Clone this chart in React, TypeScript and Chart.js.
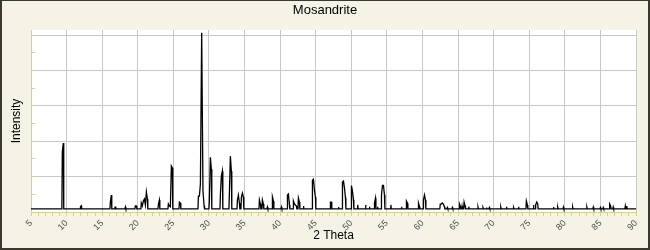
import React, { useEffect, useRef } from 'react';
import { Chart, registerables } from 'chart.js';

Chart.register(...registerables);

// ---- texts ----
const chartTitle = 'Mosandrite';
const xAxisTitle = '2 Theta';
const yAxisTitle = 'Intensity';

// ---- axis ranges / ticks ----
const xMin = 5;
const xMax = 90;
const yMin = 0;
const yMax = 103;
const xTickValues = Array.from({ length: xMax - xMin + 1 }, (_, i) => xMin + i);
const xLabelValues = [5, 10, 15, 20, 25, 30, 35, 40, 45, 50, 55, 60, 65, 70, 75, 80, 85, 90];
const yTickValues = [0, 10, 20, 30, 40, 50, 60, 70, 80, 90, 100];
const yGridValues = [20, 40, 60, 80, 100];

// ---- data: diffraction peaks ----
const baseline = 1.8;
const peakPositions = [
  9.40, 9.54, 11.95, 12.05, 16.15, 16.29, 16.80, 16.90, 18.26, 19.66, 19.80,
  20.50, 20.64, 20.79, 20.93, 21.07, 21.21, 21.35, 22.90, 23.04, 24.30, 24.44,
  24.58, 24.72, 24.86, 25.85, 25.99, 28.52, 28.66, 28.80, 28.98, 29.16,
  29.32, 30.06, 30.20, 30.34, 31.61, 31.75, 31.89, 32.87, 33.01, 33.15, 34.00,
  34.14, 34.28, 34.56, 34.70, 34.84, 37.09, 37.23, 37.51, 37.65, 38.21, 38.92,
  39.06, 40.18, 41.03, 41.17, 41.31, 41.87, 42.01, 42.15, 42.29, 42.57, 42.71,
  43.28, 44.54, 44.68, 44.82, 44.96, 47.07, 47.20, 48.20, 48.76, 48.90, 49.04,
  49.18, 50.02, 50.16, 50.30, 50.90, 52.00, 52.55, 53.26, 53.40, 53.68, 54.24,
  54.38, 54.52, 54.66, 55.56, 57.05, 57.75, 57.89, 59.44, 59.58, 60.14, 60.28,
  60.42, 62.50, 62.64, 62.80, 62.94, 63.08, 63.50, 64.20, 65.20, 65.34, 65.56,
  65.85, 65.99, 66.50, 67.80, 68.50, 69.00, 69.40, 71.00, 71.80, 72.80, 73.50,
  74.60, 74.74, 75.60, 75.90, 76.05, 76.19, 78.40, 79.00, 79.80, 81.10, 83.10,
  84.00, 85.00, 85.40, 86.30, 86.44, 86.80, 88.50, 88.70,
];
const peakIntensities = [
  34.0, 39.0, 3.0, 3.5, 5.6, 9.6, 2.8, 2.8, 2.8, 3.4, 3.4,
  5.1, 3.5, 6.2, 7.3, 4.0, 11.3, 7.3, 4.5, 6.8, 4.5, 3.4,
  3.0, 26.0, 24.9, 5.6, 5.1, 9.0, 9.0, 15.8, 101.5, 11.9,
  3.5, 6.2, 31.0, 24.2, 10.0, 20.3, 23.1, 10.0, 31.6, 23.0, 6.8,
  9.6, 5.1, 8.5, 10.7, 8.5, 6.8, 4.5, 6.8, 4.5, 2.8, 8.5,
  6.2, 2.8, 9.6, 10.2, 4.0, 6.2, 4.5, 4.0, 3.4, 7.9, 5.6,
  3.4, 18.0, 18.6, 12.4, 8.5, 5.6, 5.6, 2.8, 17.0, 17.5, 13.7,
  8.0, 15.0, 12.0, 7.0, 4.0, 4.0, 3.0, 5.2, 7.8, 3.0, 9.6,
  15.0, 15.0, 9.6, 4.0, 3.0, 6.2, 5.0, 5.0, 3.0, 6.8, 9.6,
  6.8, 4.5, 4.5, 5.1, 4.5, 3.0, 2.5, 2.5, 4.5, 3.0, 3.4,
  5.6, 3.5, 3.0, 2.8, 2.5, 2.5, 2.5, 2.8, 3.0, 2.5, 3.0,
  6.2, 4.0, 4.0, 4.0, 5.6, 4.5, 2.8, 2.8, 2.8, 2.8, 2.8,
  2.8, 2.5, 2.5, 4.5, 3.4, 2.8, 3.4, 3.4,
];

// ---- styles ----
const bgColor = '#f5f3e6';
const frameColor = '#3a3930';
const axisColor = '#d8cf92';
const gridColor = '#c8c8c8';
const fontFamily = 'Arial, "Liberation Sans", Helvetica, sans-serif';

function buildPattern() {
  const pts: { x: number; y: number }[] = [{ x: xMin, y: baseline }];
  const half = 0.06;
  const n = peakPositions.length;
  for (let i = 0; i < n; i++) {
    const p = peakPositions[i];
    const prev = i > 0 ? peakPositions[i - 1] : -Infinity;
    const next = i < n - 1 ? peakPositions[i + 1] : Infinity;
    if (p - prev > 0.2) pts.push({ x: p - half, y: baseline });
    pts.push({ x: p, y: peakIntensities[i] });
    if (next - p > 0.2) pts.push({ x: p + half, y: baseline });
  }
  pts.push({ x: xMax, y: baseline });
  return pts;
}

const framePlugin = {
  id: 'frame',
  beforeDraw(chart: any) {
    const { ctx, width, height, chartArea } = chart;
    ctx.save();
    ctx.fillStyle = bgColor;
    ctx.fillRect(0, 0, width, height);
    ctx.fillStyle = '#ffffff';
    ctx.fillRect(chartArea.left, chartArea.top, chartArea.right - chartArea.left, chartArea.bottom - chartArea.top);
    ctx.restore();
  },
  afterDraw(chart: any) {
    const { ctx, width, height } = chart;
    ctx.save();
    ctx.fillStyle = frameColor;
    ctx.fillRect(0, 0, width, 1);
    ctx.fillRect(0, 0, 2, height);
    ctx.fillRect(width - 2, 0, 2, height);
    ctx.fillRect(0, height - 2, width, 2);
    ctx.restore();
  },
};

// Grid lines and inner y tick marks, placed through the scales
const gridPlugin = {
  id: 'gridAndTicks',
  beforeDatasetsDraw(chart: any) {
    const { ctx, chartArea } = chart;
    const xs = chart.scales.x;
    const ys = chart.scales.y;
    const align = (p: number) => Math.round(p - 0.5) + 0.5;
    ctx.save();
    ctx.lineWidth = 1;
    ctx.strokeStyle = gridColor;
    ctx.beginPath();
    for (const v of xLabelValues) {
      if (v === xMin) continue;
      const px = align(xs.getPixelForValue(v));
      ctx.moveTo(px, chartArea.top);
      ctx.lineTo(px, chartArea.bottom);
    }
    for (const v of yGridValues) {
      const py = align(ys.getPixelForValue(v));
      ctx.moveTo(chartArea.left + 1, py);
      ctx.lineTo(chartArea.right, py);
    }
    ctx.stroke();
    ctx.strokeStyle = axisColor;
    ctx.beginPath();
    for (const v of yTickValues) {
      const py = align(ys.getPixelForValue(v));
      ctx.moveTo(chartArea.left + 1, py);
      ctx.lineTo(chartArea.left + 4, py);
    }
    ctx.stroke();
    ctx.restore();
  },
};

export default function App() {
  const canvasRef = useRef<HTMLCanvasElement | null>(null);

  useEffect(() => {
    if (!canvasRef.current) return;
    Chart.defaults.font.family = fontFamily;
    const chart = new Chart(canvasRef.current, {
      type: 'line',
      data: {
        datasets: [
          {
            data: buildPattern(),
            borderColor: '#000000',
            borderWidth: 1.3,
            pointRadius: 0,
            fill: false,
            tension: 0,
          },
        ],
      },
      options: {
        animation: false,
        responsive: false,
        events: [],
        layout: { padding: 0 },
        plugins: {
          legend: { display: false },
          tooltip: { enabled: false },
          title: {
            display: true,
            text: chartTitle,
            color: '#000000',
            font: { size: 13, weight: 'normal' },
            padding: { top: 3, bottom: 11.4 },
          },
        },
        scales: {
          x: {
            type: 'linear',
            min: xMin,
            max: xMax,
            afterBuildTicks: (s: any) => {
              s.ticks = xTickValues.map((v) => ({ value: v }));
            },
            afterFit: (s: any) => {
              s.height = 38;
            },
            ticks: {
              autoSkip: false,
              minRotation: 45,
              maxRotation: 45,
              padding: 2,
              color: '#4d4d4d',
              font: { size: 9 },
              callback: (v: any) => (xLabelValues.includes(Number(v)) ? String(v) : ''),
            },
            grid: {
              drawOnChartArea: false,
              drawTicks: true,
              tickColor: axisColor,
              tickLength: 4,
              lineWidth: 1,
            },
            border: { color: axisColor, width: 1 },
            title: {
              display: true,
              text: xAxisTitle,
              color: '#000000',
              font: { size: 12 },
              padding: { top: 0, bottom: 7 },
            },
          },
          y: {
            type: 'linear',
            min: yMin,
            max: yMax,
            afterBuildTicks: (s: any) => {
              s.ticks = yTickValues.map((v) => ({ value: v }));
            },
            afterFit: (s: any) => {
              s.width = 31;
            },
            ticks: { display: false },
            grid: { drawOnChartArea: false, drawTicks: false },
            border: { color: axisColor, width: 1 },
            title: {
              display: true,
              text: yAxisTitle,
              color: '#000000',
              font: { size: 12 },
              padding: { top: 9, bottom: 0 },
            },
          },
          yr: {
            type: 'linear',
            position: 'right',
            grid: { display: false, drawTicks: false },
            ticks: { display: false },
            border: { display: false },
            afterFit: (s: any) => {
              s.width = 14;
            },
          },
        },
      } as any,
      plugins: [framePlugin, gridPlugin],
    });
    return () => chart.destroy();
  }, []);

  return (
    <div style={{ position: 'fixed', left: 0, top: 0, width: 650, height: 250 }}>
      <canvas ref={canvasRef} width={650} height={250} style={{ width: 650, height: 250, display: 'block' }} />
    </div>
  );
}
